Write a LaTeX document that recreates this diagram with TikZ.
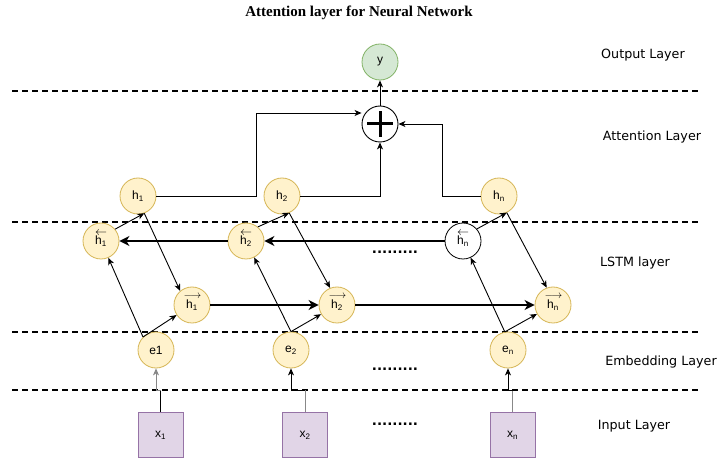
\documentclass[tikz,border=0pt]{standalone}
\usepackage{fontspec}
\setmainfont{Liberation Sans}
\newfontfamily\labelfont{DejaVu Sans}
\newfontfamily\titlefont{Liberation Serif}
\usetikzlibrary{arrows.meta}
\definecolor{yfill}{HTML}{FFF2CC}
\definecolor{ystroke}{HTML}{D6B656}
\definecolor{pfill}{HTML}{E1D5E7}
\definecolor{pstroke}{HTML}{9673A6}
\definecolor{gfill}{HTML}{D5E8D4}
\definecolor{gstroke}{HTML}{82B366}
\definecolor{linegray}{HTML}{888888}
\tikzset{
  cell/.style={circle, minimum size=36pt, inner sep=0pt, draw=ystroke, fill=yfill, line width=0.8pt, font=\fontsize{12}{13}\selectfont},
  wcell/.style={cell, draw=black, fill=white},
  gcell/.style={cell, draw=gstroke, fill=gfill},
  inbox/.style={rectangle, minimum size=45pt, inner sep=0pt, draw=pstroke, fill=pfill, line width=1pt, font=\fontsize{12}{13}\selectfont},
  tarrow/.style={line width=0.9pt, -{Stealth[length=7pt,width=6pt,inset=2pt]}},
  barrow/.style={line width=2pt, -{Stealth[length=10pt,width=10pt,inset=3pt]}},
  plainline/.style={line width=0.9pt},
  sepline/.style={line width=2pt, dash pattern=on 6pt off 4pt},
  layerlabel/.style={font=\labelfont\fontsize{12.7}{14}\selectfont},
  dotsty/.style={font=\labelfont\bfseries\fontsize{13.5}{14}\selectfont, inner sep=0pt},
  bk/.style={label={[inner sep=0pt, yshift=8pt]center:{\fontsize{12}{12}\selectfont$\leftarrow$}}},
  fw/.style={label={[inner sep=0pt, yshift=8.5pt, xshift=0.5pt]center:{\fontsize{11}{11}\selectfont$\longrightarrow$}}}
}
\begin{document}
\begin{tikzpicture}[x=1pt,y=-1pt]
\useasboundingbox (0,0) rectangle (718,462);
\fill[white] (0,0) rectangle (718,462);

% title
\node[font=\titlefont\bfseries\fontsize{15}{17}\selectfont] (title) at (359,13) {Attention layer for Neural Network};

% separators
\draw[sepline] (12,91) -- (698,91);
\draw[sepline] (12,222) -- (698,222);
\draw[sepline] (12,332) -- (698,332);
\draw[sepline] (12,390) -- (698,390);

% layer labels
\node[layerlabel] (lout) at (643,55) {Output Layer};
\node[layerlabel] (latt) at (652,137) {Attention Layer};
\node[layerlabel] (llstm) at (635,263) {LSTM layer};
\node[layerlabel] (lemb) at (661,362) {Embedding Layer};
\node[layerlabel] (linp) at (634,426) {Input Layer};

% output and sum
\node[gcell] (y) at (380,62) {y};
\node[circle, minimum size=36pt, inner sep=0pt, draw=black, fill=white, line width=0.9pt] (plus) at (380,124) {};
\draw[line width=3pt] ([xshift=-13pt]plus.center) -- ([xshift=13pt]plus.center);
\draw[line width=3pt] ([yshift=-13pt]plus.center) -- ([yshift=13pt]plus.center);

% top h nodes
\node[cell] (h1t) at (138,196) {h\textsubscript{1}};
\node[cell] (h2t) at (282,196) {h\textsubscript{2}};
\node[cell] (hnt) at (499,196) {h\textsubscript{n}};

% backward nodes
\node[cell, bk] (h1b) at (101,241) {h\textsubscript{1}};
\node[cell, bk] (h2b) at (246,241) {h\textsubscript{2}};
\node[wcell, bk] (hnb) at (463,241) {h\textsubscript{n}};

% forward nodes
\node[cell, fw] (h1f) at (192,305) {h\textsubscript{1}};
\node[cell, fw] (h2f) at (337,305) {h\textsubscript{2}};
\node[cell, fw] (hnf) at (553,305) {h\textsubscript{n}};

% embedding nodes
\node[cell] (e1) at (156,350) {e1};
\node[cell] (e2) at (291,350) {e\textsubscript{2}};
\node[cell] (en) at (508,350) {e\textsubscript{n}};

% inputs
\node[inbox] (x1) at (160.5,435) {x\textsubscript{1}};
\node[inbox] (x2) at (305,435) {x\textsubscript{2}};
\node[inbox] (xn) at (512.5,435) {x\textsubscript{n}};

% dots
\node[dotsty] (d1) at (395,252) {.........};
\node[dotsty] (d2) at (395,369) {.........};
\node[dotsty] (d3) at (395,424) {.........};

% input -> embedding
\coordinate (j1) at (160.5,390);
\coordinate (j2) at (305,390);
\coordinate (j3) at (512.5,390);
\draw[plainline] (x1.north) -- (j1);
\draw[tarrow, linegray] (j1) -| (e1.south);
\draw[plainline, linegray] (x2.north) -- (j2);
\draw[tarrow] (j2) -| (e2.south);
\draw[plainline, linegray] (xn.north) -- (j3);
\draw[tarrow] (j3) -| (en.south);

% embedding -> lstm
\draw[tarrow] (e1.135) -- (h1b);
\draw[tarrow] (e1.135) -- (h1f);
\draw[tarrow] (e2.north) -- (h2b);
\draw[tarrow] (e2.north) -- (h2f);
\draw[tarrow] (en.100) -- (hnb);
\draw[tarrow] (en.100) -- (hnf);

% backward / forward chains
\draw[barrow] (h2b) -- (h1b);
\draw[barrow] (hnb) -- (h2b);
\draw[barrow] (h1f) -- (h2f);
\draw[barrow] (h2f) -- (hnf);

% lstm <-> top h
\draw[tarrow] (h1b.40) -- (h1t.-70);
\draw[tarrow] (h1t.-70) -- (h1f.130);
\draw[tarrow] (h2b.50) -- (h2t.-67);
\draw[tarrow] (h2t.-67) -- (h2f.112);
\draw[tarrow] (hnb.41) -- (hnt.-65);
\draw[tarrow] (hnt.-65) -- (hnf.110);

% attention
\coordinate (a1) at (256,113);
\coordinate (a2) at (442,124);
\draw[tarrow] (h1t.east) -| (a1) -- (plus.west |- a1);
\draw[tarrow] (h2t.east) -| (plus.south);
\draw[tarrow] (hnt.west) -| (a2) -- (plus.east);
\draw[tarrow] (plus.north) -- (y.south);
\end{tikzpicture}
\end{document}
